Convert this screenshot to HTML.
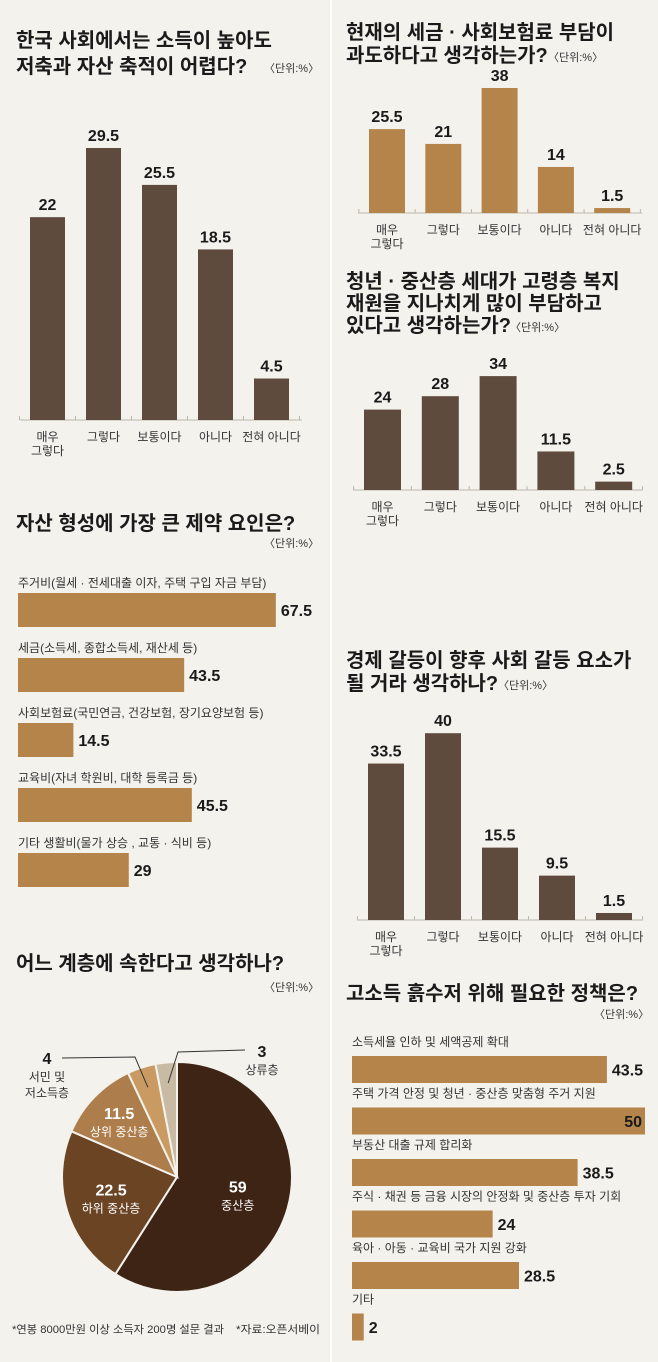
<!DOCTYPE html>
<html><head><meta charset="utf-8">
<style>
html,body{margin:0;padding:0;background:#f4f2ec;}
svg{display:block;font-family:"Liberation Sans","Noto Sans CJK KR",sans-serif;}
.t{font-size:20px;font-weight:bold;fill:#1a1a1a;}
.u{font-size:11px;fill:#333;}
.c{font-size:12px;fill:#333;}
.f{font-size:11px;fill:#333;}
.v{font-size:16px;font-weight:bold;fill:#1a1a1a;}
</style></head>
<body>
<svg id="s" width="658" height="1362" viewBox="0 0 658 1362" xmlns="http://www.w3.org/2000/svg">
<rect x="0" y="0" width="658" height="1362" fill="#f4f2ec"/>
<line x1="331" y1="0" x2="331" y2="1362" stroke="#ffffff" stroke-width="2"/>

<g>
<text class="t" x="16" y="47">한국 사회에서는 소득이 높아도</text>
<text class="t" x="16" y="73">저축과 자산 축적이 어렵다?</text>
<text class="u" x="264" y="72">〈단위:%〉</text>
</g>
<g>
<text class="t" x="346" y="39">현재의 세금 · 사회보험료 부담이</text>
<text class="t" x="346" y="62">과도하다고 생각하는가?</text>
<text class="u" x="548" y="61">〈단위:%〉</text>
</g>
<g>
<text class="t" x="346" y="288">청년 · 중산층 세대가 고령층 복지</text>
<text class="t" x="346" y="310">재원을 지나치게 많이 부담하고</text>
<text class="t" x="346" y="332">있다고 생각하는가?</text>
<text class="u" x="510" y="331">〈단위:%〉</text>
</g>
<g>
<text class="t" x="346" y="667">경제 갈등이 향후 사회 갈등 요소가</text>
<text class="t" x="346" y="690">될 거라 생각하나?</text>
<text class="u" x="498" y="689">〈단위:%〉</text>
</g>
<g>
<text class="t" x="16" y="530">자산 형성에 가장 큰 제약 요인은?</text>
<text class="u" x="264" y="547">〈단위:%〉</text>
</g>
<g>
<text class="t" x="346" y="1000">고소득 흙수저 위해 필요한 정책은?</text>
<text class="u" x="594" y="1018">〈단위:%〉</text>
</g>
<g>
<text class="t" x="16" y="970">어느 계층에 속한다고 생각하나?</text>
<text class="u" x="264" y="991">〈단위:%〉</text>
</g>
<text class="f" x="12" y="1333" textLength="212" lengthAdjust="spacingAndGlyphs">*연봉 8000만원 이상 소득자 200명 설문 결과</text>
<text class="f" x="236" y="1333" textLength="84" lengthAdjust="spacingAndGlyphs">*자료:오픈서베이</text>
<g id="plots"></g>
</svg>
<script>
// vertical chart data
const catsV = ['매우|그렇다','그렇다','보통이다','아니다','전혀 아니다'];
const chart1Values = [22, 29.5, 25.5, 18.5, 4.5];
const chart1Labels = ['22','29.5','25.5','18.5','4.5'];
const chart2Values = [25.5, 21, 38, 14, 1.5];
const chart2Labels = ['25.5','21','38','14','1.5'];
const chart3Values = [24, 28, 34, 11.5, 2.5];
const chart3Labels = ['24','28','34','11.5','2.5'];
const chart4Values = [33.5, 40, 15.5, 9.5, 1.5];
const chart4Labels = ['33.5','40','15.5','9.5','1.5'];
// horizontal chart data
const chart5Cats = ['주거비(월세 · 전세대출 이자, 주택 구입 자금 부담)','세금(소득세, 종합소득세, 재산세 등)','사회보험료(국민연금, 건강보험, 장기요양보험 등)','교육비(자녀 학원비, 대학 등록금 등)','기타 생활비(물가 상승 , 교통 · 식비 등)'];
const chart5Values = [67.5, 43.5, 14.5, 45.5, 29];
const chart5Labels = ['67.5','43.5','14.5','45.5','29'];
const chart6Cats = ['소득세율 인하 및 세액공제 확대','주택 가격 안정 및 청년 · 중산층 맞춤형 주거 지원','부동산 대출 규제 합리화','주식 · 채권 등 금융 시장의 안정화 및 중산층 투자 기회','육아 · 아동 · 교육비 국가 지원 강화','기타'];
const chart6Values = [43.5, 50, 38.5, 24, 28.5, 2];
const chart6Labels = ['43.5','50','38.5','24','28.5','2'];
// pie data
const pieCats = ['중산층','하위 중산층','상위 중산층','서민 및 저소득층','상류층'];
const pieValues = [59, 22.5, 11.5, 4, 3];
const pieLabels = ['59','22.5','11.5','4','3'];

const NS='http://www.w3.org/2000/svg';
const root=document.getElementById('plots');
function mk(tag,attrs,parent){const e=document.createElementNS(NS,tag);for(const k in attrs)e.setAttribute(k,attrs[k]);(parent||root).appendChild(e);return e;}

function vchart(id,vals,labs,x0,step,bw,base,scale,color,axX1,axX2){
  const g=mk('g',{});
  
  
  const ax=mk('line',{x1:axX1,y1:base,x2:axX2,y2:base,stroke:'#bdb8ad','stroke-width':1},g);
  
  
  for(let i=0;i<=5;i++){
    const tx=x0-(step-bw)/2+i*step;
    const tk=mk('line',{x1:tx,y1:base-4,x2:tx,y2:base,stroke:'#bdb8ad','stroke-width':1},g);
    
    
  }
  vals.forEach((v,i)=>{
    const x=x0+i*step,h=v*scale;
    const r=mk('rect',{x:x,y:base-h,width:bw,height:h,fill:color},g);
    
    
    const t=mk('text',{x:x+bw/2,y:base-h-7,'text-anchor':'middle',class:'v'},g);
    t.textContent=labs[i];
    
    
    catsV[i].split('|').forEach((ln,j)=>{
      const c=mk('text',{x:x+bw/2,y:base+21+j*14,'text-anchor':'middle',class:'c'},g);
      c.textContent=ln;
      
      
    });
  });
}
vchart('chart1-bars',chart1Values,chart1Labels,30,56,35,420,9.22,'#5e4b3d',20,302);
vchart('chart2-bars',chart2Values,chart2Labels,369,56.3,36,213,3.29,'#b5844a',358,642);
vchart('chart3-bars',chart3Values,chart3Labels,364,57.8,37,490,3.35,'#5e4b3d',353,643);
vchart('chart4-bars',chart4Values,chart4Labels,368,57,36,920,4.67,'#5e4b3d',357,643);

function hchart(id,cats,vals,labs,x0,y0,step,bh,scale,insideIdx,labOff){
  const g=mk('g',{});
  
  
  vals.forEach((v,i)=>{
    const y=y0+i*step,w=v*scale;
    const c=mk('text',{x:x0,y:y-labOff,class:'c'},g);
    c.textContent=cats[i];
    
    
    const r=mk('rect',{x:x0,y:y,width:w,height:bh,fill:'#b5844a'},g);
    
    
    const inside=(i===insideIdx);
    const t=mk('text',{x:inside?x0+w-3:x0+w+5,y:y+bh/2+6,'text-anchor':inside?'end':'start',class:'v'},g);
    t.textContent=labs[i];
    
    
  });
}
hchart('chart5-bars',chart5Cats,chart5Values,chart5Labels,18,593,65,34,3.82,-1,6);
hchart('chart6-bars',chart6Cats,chart6Values,chart6Labels,352,1056,51.5,27,5.86,1,10);

// pie
const pieColors=['#3d2415','#6b4424','#ad7e4c','#c99b62','#c9bba3'];
const cx=177,cy=1177,R=115;
const pg=mk('g',{});


const tot=pieValues.reduce((a,b)=>a+b,0);
let acc=0;
const mids=[];
pieValues.forEach((v,i)=>{
  const a0=acc/tot*2*Math.PI; acc+=v; const a1=acc/tot*2*Math.PI;
  const p0=[cx+R*Math.sin(a0),cy-R*Math.cos(a0)],p1=[cx+R*Math.sin(a1),cy-R*Math.cos(a1)];
  const large=(a1-a0)>Math.PI?1:0;
  const p=mk('path',{d:`M${cx},${cy}L${p0[0]},${p0[1]}A${R},${R} 0 ${large} 1 ${p1[0]},${p1[1]}Z`,fill:pieColors[i],stroke:'#f4f2ec','stroke-width':2},pg);
  
  
  mids.push((a0+a1)/2);
});
const inner=[[0,0.55],[1,0.6],[2,0.7]];
inner.forEach(([i,f])=>{
  const x=cx+R*f*Math.sin(mids[i]),y=cy-R*f*Math.cos(mids[i]);
  const t1=mk('text',{x:x,y:y-2,'text-anchor':'middle',class:'v',style:'fill:#fff'},pg);
  t1.textContent=pieLabels[i];
  
  
  const t2=mk('text',{x:x,y:y+15,'text-anchor':'middle',class:'c',style:'fill:#fff'},pg);
  t2.textContent=pieCats[i];
  
  
});
function callout(i,pts,tx,lines,anchor){
  const px=cx+R*0.82*Math.sin(mids[i]),py=cy-R*0.82*Math.cos(mids[i]);
  const l=mk('polyline',{points:`${px},${py} ${pts}`,fill:'none',stroke:'#333','stroke-width':1},pg);
  
  
  const t=mk('text',{x:tx[0],y:tx[1],'text-anchor':anchor,class:'v'},pg);
  t.textContent=pieLabels[i];
  
  
  lines.forEach((ln,j)=>{
    const c=mk('text',{x:tx[0],y:tx[1]+17+j*16,'text-anchor':anchor,class:'c'},pg);
    c.textContent=ln;
    
    
  });
}
callout(3,'135,1057 62,1058',[47,1064],['서민 및','저소득층'],'middle');
callout(4,'178,1052 245,1050',[262,1057],['상류층'],'middle');
</script>
</body></html>
